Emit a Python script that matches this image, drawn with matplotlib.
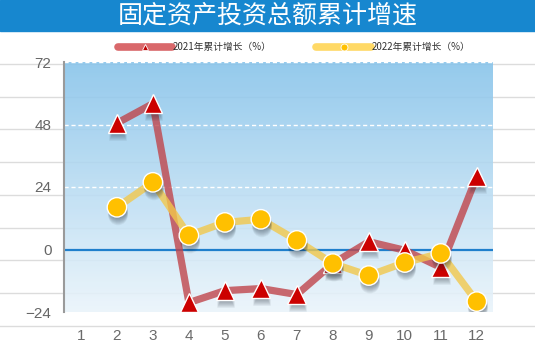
import matplotlib
matplotlib.use("Agg")
import matplotlib.pyplot as plt
import matplotlib.patheffects as pe
from matplotlib.lines import Line2D
from matplotlib.patches import Rectangle
import numpy as np

plt.rcParams['font.family'] = ['Noto Sans CJK SC', 'DejaVu Sans']
plt.rcParams['axes.unicode_minus'] = True

# data
title = "固定资产投资总额累计增速"
months = [1, 2, 3, 4, 5, 6, 7, 8, 9, 10, 11, 12]
months_data = [2, 3, 4, 5, 6, 7, 8, 9, 10, 11, 12]
growth_2021 = [48.5, 56.0, -20.4, -15.8, -15.0, -17.3, -5.4, 3.0, -0.3, -6.9, 28.1]
growth_2022 = [16.2, 25.8, 5.4, 10.4, 11.6, 3.5, -5.4, -10.0, -5.0, -1.5, -20.0]
label_2021 = "2021年累计增长（%）"
label_2022 = "2022年累计增长（%）"
yticks = [72, 48, 24, 0, -24]

W, H = 535, 360
fig = plt.figure(figsize=(W / 100, H / 100), dpi=100)

# background layer: title band + faint grey rules across the whole figure
bg = fig.add_axes([0, 0, 1, 1], zorder=-1)
bg.set_xlim(0, W)
bg.set_ylim(H, 0)
bg.axis('off')
bg.add_patch(Rectangle((0, 0), W, 30.5, color='#1787cf'))
for yy in [64, 97, 129, 162, 195, 228, 260, 293, 326]:
    bg.plot([0, W], [yy, yy], color='#dcdcdc', lw=1.0)
fig.text(0.5, 1 - 15.5 / H, title, color='white', fontsize=18,
         fontweight='medium', ha='center', va='center')

# main axes
ax = fig.add_axes([64 / W, (H - 312) / H, (493 - 64) / W, 250 / H])
ax.set_xlim(0.53, 12.45)
ax.set_ylim(-24, 72)
ax.patch.set_alpha(0)

grad = np.linspace(0, 1, 256).reshape(-1, 1)
top = np.array([0x86, 0xc3, 0xea]) / 255
bot = np.array([0xea, 0xf4, 0xfb]) / 255
img = top[None, None, :] * (1 - grad[:, :, None]) + bot[None, None, :] * grad[:, :, None]
ax.imshow(img, extent=[0.53, 12.45, -24, 72], aspect='auto', zorder=0, alpha=0.88)

for v in [72, 48, 24]:
    ax.axhline(v, color='white', lw=1.0, ls=(0, (3, 2)), zorder=1)
ax.axhline(0, color='#1f7fcc', lw=1.6, zorder=1)

for s in ['top', 'right', 'bottom']:
    ax.spines[s].set_visible(False)
ax.spines['left'].set_color('#9a9a9a')
ax.spines['left'].set_linewidth(1.5)

ax.set_yticks(yticks)
ax.set_xticks(months)
ax.tick_params(axis='y', length=0, pad=9, labelsize=11, labelcolor='#666666')
ax.tick_params(axis='x', length=0, pad=12, labelsize=11, labelcolor='#6a6a6a')
for t in ax.get_xticklabels() + ax.get_yticklabels():
    t.set_family('Liberation Sans')

# soft drop shadow under the markers: many faint stacked copies
shadow = [pe.SimplePatchShadow(offset=(0.8, -d), shadow_rgbFace='#1a2430', alpha=0.06)
          for d in np.arange(1.0, 6.6, 0.7)] + [pe.Normal()]

ax.plot(months_data, growth_2021, color='#c0454b', alpha=0.8, lw=5.2,
        solid_capstyle='round', zorder=3)
ax.plot(months_data, growth_2022, color='#f2c84b', alpha=0.8, lw=5.2,
        solid_capstyle='round', zorder=3)
ax.plot(months_data, growth_2021, ls='none', marker='^', ms=13.5, mfc='#cc0000',
        mec='white', mew=1.0, zorder=4, path_effects=shadow)
ax.plot(months_data, growth_2022, ls='none', marker='o', ms=14, mfc='#ffc000',
        mec='white', mew=1.0, zorder=5, path_effects=shadow)

# legend drawn along the top strip
lg = fig.add_axes([0, 0, 1, 1], zorder=5)
lg.set_xlim(0, W)
lg.set_ylim(H, 0)
lg.axis('off')
for x0, x1, c, m, mc, lab in [(118, 172, '#d9686b', '^', '#c00000', label_2021),
                              (316, 371, '#ffd966', 'o', '#ffc000', label_2022)]:
    lg.add_line(Line2D([x0, x1], [47, 47], color=c, lw=5.5, solid_capstyle='round'))
    lg.plot([(x0 + x1) / 2], [47], marker=m, ms=5, mfc=mc, mec='white', mew=0.6)
    lg.text(x1 + 1, 47, lab, fontsize=7, color='#333333', va='center', ha='left')

fig.savefig("out.png", dpi=100)
